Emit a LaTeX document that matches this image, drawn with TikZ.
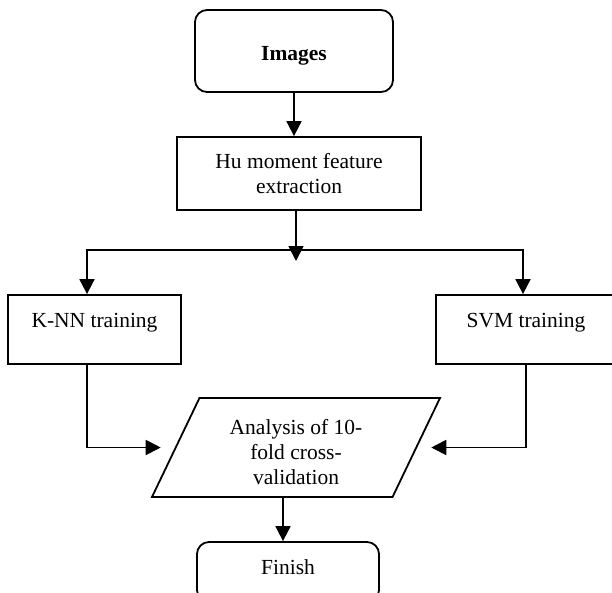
\documentclass[tikz,border=0pt]{standalone}
\usepackage{fontspec}
\setmainfont{Liberation Serif}
\usetikzlibrary{arrows.meta,shapes.geometric}
\tikzset{
  flowbox/.style={draw, line width=1.8pt, inner sep=4pt, align=center,
    font=\fontsize{21.5}{25}\selectfont},
  roundbox/.style={flowbox, rounded corners=12pt},
  topbox/.style={flowbox, text height=28pt, text depth=33pt},
  databox/.style={flowbox, trapezium, trapezium left angle=60,
    trapezium right angle=120, trapezium stretches body},
  arr/.style={line width=1.8pt, -{Triangle[length=15pt,width=15pt]}},
}
\begin{document}
\begin{tikzpicture}[x=1pt,y=-1pt]
  \clip (0,0) rectangle (612,592);
  % boxes
  \node[roundbox, minimum width=198pt, minimum height=82pt] (images) at (294,51) {\rule{0pt}{23pt}\textbf{Images}};
  \node[flowbox, minimum width=244pt, minimum height=73pt] (hu) at (299,173.5) {Hu moment feature\\extraction};
  \node[topbox, minimum width=173pt] (knn) at (94.5,329.5) {K-NN training};
  \node[topbox, minimum width=180pt] (svm) at (526,329.5) {SVM training};
  \node[databox, minimum width=288pt, minimum height=99pt] (cv) at (296,447.5) {\rule{0pt}{24pt}Analysis of 10-\\fold cross-\\validation};
  \node[roundbox, topbox, text depth=24pt, minimum width=182pt] (finish) at (288,572) {Finish};
  \coordinate (split) at (296,250);
  % connectors
  \draw[arr] (images.south) -- (images.south |- hu.north);
  \draw[arr] (split |- hu.south) -- ([yshift=-11pt]split);
  \draw[arr] (split) -| ([xshift=-7.5pt]knn.north);
  \draw[arr] (split) -| ([xshift=-3pt]svm.north);
  \draw[arr] ([xshift=-7.5pt]knn.south) |- ([xshift=-14pt]cv.west);
  \draw[arr] (svm.south) |- ([xshift=14pt]cv.east);
  \draw[arr] ([xshift=-5pt]finish.north |- cv.south) -- ([xshift=-5pt]finish.north);
\end{tikzpicture}
\end{document}
